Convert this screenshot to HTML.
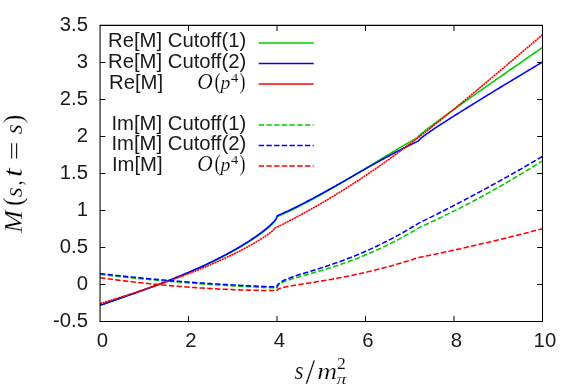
<!DOCTYPE html>
<html><head><meta charset="utf-8"><title>plot</title>
<style>html,body{margin:0;padding:0;background:#fff}svg{display:block;will-change:transform}</style></head>
<body>
<svg width="581" height="387" viewBox="0 0 581 387">
<rect width="581" height="387" fill="#fff"/>
<defs><clipPath id="c"><rect x="100.0" y="25.4" width="442.5" height="296.1"/></clipPath></defs>
<path d="M188.50,321.5 v-5.6 M188.50,25.4 v5.6 M277.00,321.5 v-5.6 M277.00,25.4 v5.6 M365.50,321.5 v-5.6 M365.50,25.4 v5.6 M454.00,321.5 v-5.6 M454.00,25.4 v5.6 M100.0,284.50 h5.3 M542.5,284.50 h-5.3 M100.0,247.50 h5.3 M542.5,247.50 h-5.3 M100.0,210.50 h5.3 M542.5,210.50 h-5.3 M100.0,173.50 h5.3 M542.5,173.50 h-5.3 M100.0,136.50 h5.3 M542.5,136.50 h-5.3 M100.0,99.50 h5.3 M542.5,99.50 h-5.3 M100.0,62.50 h5.3 M542.5,62.50 h-5.3" stroke="#000" stroke-width="1" fill="none"/>
<g clip-path="url(#c)" fill="none" stroke-linejoin="round">
<path d="M100.00,305.31 L102.01,304.61 L104.00,303.91 L105.98,303.22 L107.95,302.53 L109.91,301.84 L111.86,301.17 L113.80,300.49 L115.73,299.82 L117.64,299.15 L119.54,298.49 L121.43,297.83 L123.31,297.17 L125.18,296.52 L127.04,295.87 L128.88,295.22 L130.72,294.57 L132.54,293.93 L134.35,293.29 L136.15,292.65 L137.94,292.02 L139.72,291.38 L141.48,290.75 L143.24,290.12 L144.98,289.50 L146.71,288.87 L148.43,288.25 L150.14,287.62 L151.84,287.00 L153.52,286.38 L155.20,285.77 L156.86,285.15 L158.51,284.53 L160.15,283.92 L161.78,283.30 L163.40,282.69 L165.00,282.08 L166.60,281.47 L168.18,280.86 L169.75,280.25 L171.31,279.64 L172.86,279.03 L174.40,278.43 L175.92,277.82 L177.44,277.22 L178.94,276.61 L180.43,276.01 L181.91,275.40 L183.38,274.80 L184.84,274.20 L186.28,273.60 L187.72,272.99 L189.14,272.39 L190.55,271.79 L191.95,271.20 L193.34,270.60 L194.72,270.00 L196.08,269.40 L197.44,268.81 L198.78,268.21 L200.11,267.61 L201.43,267.02 L202.74,266.43 L204.04,265.83 L205.32,265.24 L206.60,264.65 L207.86,264.06 L209.11,263.47 L210.35,262.88 L211.58,262.30 L212.80,261.71 L214.00,261.12 L215.20,260.54 L216.38,259.96 L217.55,259.37 L218.71,258.79 L219.86,258.21 L221.00,257.64 L222.12,257.06 L223.24,256.48 L224.34,255.91 L225.43,255.34 L226.51,254.77 L227.58,254.20 L228.64,253.63 L229.68,253.07 L230.72,252.50 L231.74,251.94 L232.75,251.38 L233.75,250.82 L234.74,250.27 L235.72,249.72 L236.68,249.16 L237.64,248.61 L238.58,248.07 L239.51,247.52 L240.43,246.98 L241.34,246.44 L242.24,245.90 L243.12,245.37 L244.00,244.84 L244.86,244.31 L245.71,243.78 L246.55,243.26 L247.38,242.74 L248.20,242.22 L249.00,241.71 L249.80,241.20 L250.58,240.69 L251.35,240.19 L252.11,239.68 L252.86,239.19 L253.60,238.69 L254.32,238.20 L255.03,237.71 L255.74,237.23 L256.43,236.75 L257.11,236.27 L257.78,235.80 L258.43,235.33 L259.08,234.87 L259.71,234.41 L260.34,233.95 L260.95,233.50 L261.55,233.05 L262.14,232.61 L262.71,232.17 L263.28,231.73 L263.83,231.30 L264.38,230.88 L264.91,230.46 L265.43,230.04 L265.94,229.63 L266.43,229.22 L266.92,228.82 L267.39,228.42 L267.86,228.02 L268.31,227.64 L268.75,227.25 L269.18,226.87 L269.59,226.50 L270.00,226.13 L270.39,225.77 L270.78,225.41 L271.15,225.06 L271.51,224.71 L271.86,224.37 L272.19,224.03 L272.52,223.70 L272.83,223.37 L273.14,223.05 L273.43,222.74 L273.71,222.43 L273.98,222.12 L274.23,221.82 L274.48,221.53 L274.71,221.24 L274.94,220.96 L275.15,220.68 L275.35,220.41 L275.54,220.15 L275.71,219.89 L275.88,219.64 L276.03,219.39 L276.18,219.15 L276.31,218.91 L276.43,218.68 L276.54,218.46 L276.63,218.24 L276.72,218.02 L276.79,217.82 L276.86,217.62 L276.91,217.42 L276.95,217.23 L276.98,217.05 L276.99,216.87 L277.00,216.70 L277.00,216.70 L278.01,216.26 L279.02,215.82 L280.03,215.37 L281.05,214.92 L282.06,214.47 L283.07,214.01 L284.08,213.55 L285.09,213.09 L286.10,212.62 L287.12,212.15 L288.13,211.67 L289.14,211.19 L290.15,210.71 L291.16,210.22 L292.17,209.74 L293.18,209.24 L294.20,208.75 L295.21,208.25 L296.22,207.75 L297.23,207.25 L298.24,206.74 L299.25,206.23 L300.26,205.72 L301.28,205.20 L302.29,204.68 L303.30,204.16 L304.31,203.64 L305.32,203.11 L306.33,202.58 L307.35,202.05 L308.36,201.51 L309.37,200.98 L310.38,200.44 L311.39,199.90 L312.40,199.35 L313.41,198.80 L314.43,198.25 L315.44,197.70 L316.45,197.15 L317.46,196.59 L318.47,196.03 L319.48,195.47 L320.49,194.91 L321.51,194.35 L322.52,193.78 L323.53,193.21 L324.54,192.64 L325.55,192.07 L326.56,191.50 L327.58,190.92 L328.59,190.34 L329.60,189.76 L330.61,189.18 L331.62,188.60 L332.63,188.02 L333.64,187.43 L334.66,186.84 L335.67,186.25 L336.68,185.66 L337.69,185.07 L338.70,184.48 L339.71,183.89 L340.73,183.29 L341.74,182.70 L342.75,182.10 L343.76,181.50 L344.77,180.90 L345.78,180.30 L346.79,179.70 L347.81,179.09 L348.82,178.49 L349.83,177.89 L350.84,177.28 L351.85,176.67 L352.86,176.07 L353.87,175.46 L354.89,174.85 L355.90,174.24 L356.91,173.63 L357.92,173.02 L358.93,172.41 L359.94,171.80 L360.96,171.19 L361.97,170.58 L362.98,169.97 L363.99,169.35 L365.00,168.74 L366.01,168.13 L367.02,167.52 L368.04,166.90 L369.05,166.29 L370.06,165.68 L371.07,165.06 L372.08,164.45 L373.09,163.84 L374.11,163.23 L375.12,162.61 L376.13,162.00 L377.14,161.39 L378.15,160.78 L379.16,160.17 L380.17,159.55 L381.19,158.94 L382.20,158.33 L383.21,157.72 L384.22,157.11 L385.23,156.51 L386.24,155.90 L387.25,155.29 L388.27,154.68 L389.28,154.08 L390.29,153.47 L391.30,152.87 L392.31,152.27 L393.32,151.66 L394.34,151.06 L395.35,150.46 L396.36,149.86 L397.37,149.27 L398.38,148.67 L399.39,148.07 L400.40,147.48 L401.42,146.89 L402.43,146.29 L403.44,145.70 L404.45,145.11 L405.46,144.53 L406.47,143.94 L407.48,143.36 L408.50,142.77 L409.51,142.19 L410.52,141.61 L411.53,141.03 L412.54,140.46 L413.55,139.88 L414.57,139.31 L415.58,138.74 L416.59,138.17 L417.60,137.60 L417.60,137.60 L417.61,137.53 L417.63,137.45 L417.67,137.36 L417.73,137.25 L417.81,137.14 L417.90,137.01 L418.00,136.88 L418.13,136.73 L418.27,136.58 L418.43,136.41 L418.60,136.23 L418.79,136.04 L419.00,135.84 L419.22,135.63 L419.46,135.40 L419.71,135.17 L419.99,134.93 L420.27,134.67 L420.58,134.40 L420.90,134.13 L421.24,133.84 L421.60,133.54 L421.97,133.23 L422.36,132.91 L422.76,132.58 L423.18,132.24 L423.62,131.89 L424.07,131.52 L424.54,131.15 L425.03,130.76 L425.53,130.37 L426.05,129.96 L426.59,129.54 L427.14,129.11 L427.71,128.68 L428.30,128.22 L428.90,127.76 L429.52,127.29 L430.16,126.81 L430.81,126.31 L431.48,125.81 L432.16,125.29 L432.86,124.77 L433.58,124.23 L434.32,123.68 L435.07,123.12 L435.84,122.55 L436.62,121.97 L437.42,121.38 L438.24,120.78 L439.07,120.17 L439.92,119.54 L440.79,118.91 L441.67,118.26 L442.57,117.61 L443.49,116.94 L444.42,116.26 L445.37,115.57 L446.34,114.87 L447.32,114.16 L448.32,113.44 L449.33,112.71 L450.37,111.96 L451.42,111.21 L452.48,110.44 L453.56,109.67 L454.66,108.88 L455.77,108.08 L456.91,107.27 L458.05,106.46 L459.22,105.63 L460.40,104.78 L461.59,103.93 L462.81,103.07 L464.04,102.20 L465.28,101.31 L466.55,100.42 L467.83,99.51 L469.12,98.59 L470.44,97.67 L471.77,96.73 L473.11,95.78 L474.47,94.82 L475.85,93.85 L477.25,92.86 L478.66,91.87 L480.09,90.87 L481.53,89.85 L482.99,88.83 L484.47,87.79 L485.97,86.74 L487.48,85.68 L489.00,84.62 L490.55,83.54 L492.11,82.44 L493.68,81.34 L495.28,80.23 L496.89,79.11 L498.51,77.97 L500.16,76.83 L501.82,75.67 L503.49,74.51 L505.18,73.33 L506.89,72.14 L508.62,70.94 L510.36,69.73 L512.12,68.51 L513.89,67.28 L515.69,66.04 L517.49,64.78 L519.32,63.52 L521.16,62.24 L523.02,60.96 L524.89,59.66 L526.78,58.35 L528.69,57.03 L530.61,55.70 L532.55,54.36 L534.51,53.01 L536.48,51.65 L538.47,50.28 L540.48,48.89 L542.50,47.50" stroke="#00cc00" stroke-width="1.55"/>
<path d="M100.00,305.32 L102.01,304.62 L104.00,303.92 L105.98,303.23 L107.95,302.54 L109.91,301.85 L111.86,301.17 L113.80,300.49 L115.73,299.82 L117.64,299.15 L119.54,298.48 L121.43,297.82 L123.31,297.16 L125.18,296.50 L127.04,295.85 L128.88,295.19 L130.72,294.54 L132.54,293.90 L134.35,293.25 L136.15,292.61 L137.94,291.96 L139.72,291.33 L141.48,290.69 L143.24,290.05 L144.98,289.42 L146.71,288.78 L148.43,288.15 L150.14,287.52 L151.84,286.89 L153.52,286.27 L155.20,285.64 L156.86,285.02 L158.51,284.39 L160.15,283.77 L161.78,283.15 L163.40,282.53 L165.00,281.91 L166.60,281.29 L168.18,280.67 L169.75,280.05 L171.31,279.44 L172.86,278.82 L174.40,278.20 L175.92,277.59 L177.44,276.97 L178.94,276.36 L180.43,275.75 L181.91,275.14 L183.38,274.53 L184.84,273.91 L186.28,273.30 L187.72,272.70 L189.14,272.09 L190.55,271.48 L191.95,270.87 L193.34,270.26 L194.72,269.66 L196.08,269.05 L197.44,268.45 L198.78,267.84 L200.11,267.24 L201.43,266.64 L202.74,266.04 L204.04,265.44 L205.32,264.84 L206.60,264.24 L207.86,263.64 L209.11,263.04 L210.35,262.45 L211.58,261.85 L212.80,261.26 L214.00,260.66 L215.20,260.07 L216.38,259.48 L217.55,258.89 L218.71,258.31 L219.86,257.72 L221.00,257.14 L222.12,256.55 L223.24,255.97 L224.34,255.39 L225.43,254.81 L226.51,254.24 L227.58,253.66 L228.64,253.09 L229.68,252.52 L230.72,251.95 L231.74,251.38 L232.75,250.81 L233.75,250.25 L234.74,249.69 L235.72,249.13 L236.68,248.57 L237.64,248.02 L238.58,247.47 L239.51,246.92 L240.43,246.37 L241.34,245.83 L242.24,245.28 L243.12,244.74 L244.00,244.21 L244.86,243.67 L245.71,243.14 L246.55,242.62 L247.38,242.09 L248.20,241.57 L249.00,241.05 L249.80,240.54 L250.58,240.03 L251.35,239.52 L252.11,239.01 L252.86,238.51 L253.60,238.01 L254.32,237.52 L255.03,237.03 L255.74,236.54 L256.43,236.06 L257.11,235.58 L257.78,235.10 L258.43,234.63 L259.08,234.16 L259.71,233.70 L260.34,233.24 L260.95,232.79 L261.55,232.34 L262.14,231.89 L262.71,231.45 L263.28,231.01 L263.83,230.58 L264.38,230.15 L264.91,229.72 L265.43,229.30 L265.94,228.89 L266.43,228.48 L266.92,228.07 L267.39,227.67 L267.86,227.28 L268.31,226.89 L268.75,226.50 L269.18,226.12 L269.59,225.75 L270.00,225.38 L270.39,225.01 L270.78,224.65 L271.15,224.30 L271.51,223.95 L271.86,223.60 L272.19,223.27 L272.52,222.93 L272.83,222.60 L273.14,222.28 L273.43,221.96 L273.71,221.65 L273.98,221.35 L274.23,221.05 L274.48,220.75 L274.71,220.46 L274.94,220.18 L275.15,219.90 L275.35,219.63 L275.54,219.37 L275.71,219.10 L275.88,218.85 L276.03,218.60 L276.18,218.36 L276.31,218.12 L276.43,217.89 L276.54,217.66 L276.63,217.44 L276.72,217.23 L276.79,217.02 L276.86,216.82 L276.91,216.63 L276.95,216.44 L276.98,216.25 L276.99,216.07 L277.00,215.90 L277.00,215.90 L278.01,215.46 L279.02,215.01 L280.03,214.57 L281.05,214.11 L282.06,213.66 L283.07,213.20 L284.08,212.73 L285.09,212.27 L286.10,211.80 L287.11,211.33 L288.13,210.85 L289.14,210.37 L290.15,209.89 L291.16,209.41 L292.17,208.92 L293.18,208.43 L294.19,207.93 L295.21,207.44 L296.22,206.94 L297.23,206.44 L298.24,205.93 L299.25,205.42 L300.26,204.91 L301.27,204.40 L302.29,203.89 L303.30,203.37 L304.31,202.85 L305.32,202.33 L306.33,201.80 L307.34,201.28 L308.35,200.75 L309.37,200.22 L310.38,199.68 L311.39,199.15 L312.40,198.61 L313.41,198.07 L314.42,197.53 L315.43,196.99 L316.45,196.44 L317.46,195.90 L318.47,195.35 L319.48,194.80 L320.49,194.25 L321.50,193.69 L322.51,193.14 L323.53,192.58 L324.54,192.03 L325.55,191.47 L326.56,190.91 L327.57,190.35 L328.58,189.79 L329.59,189.22 L330.61,188.66 L331.62,188.09 L332.63,187.53 L333.64,186.96 L334.65,186.39 L335.66,185.82 L336.67,185.25 L337.69,184.68 L338.70,184.11 L339.71,183.53 L340.72,182.96 L341.73,182.39 L342.74,181.81 L343.75,181.24 L344.77,180.67 L345.78,180.09 L346.79,179.51 L347.80,178.94 L348.81,178.36 L349.82,177.79 L350.83,177.21 L351.85,176.63 L352.86,176.06 L353.87,175.48 L354.88,174.90 L355.89,174.33 L356.90,173.75 L357.91,173.18 L358.93,172.60 L359.94,172.03 L360.95,171.45 L361.96,170.88 L362.97,170.30 L363.98,169.73 L364.99,169.16 L366.01,168.58 L367.02,168.01 L368.03,167.44 L369.04,166.87 L370.05,166.30 L371.06,165.73 L372.07,165.17 L373.09,164.60 L374.10,164.03 L375.11,163.47 L376.12,162.91 L377.13,162.34 L378.14,161.78 L379.15,161.22 L380.17,160.67 L381.18,160.11 L382.19,159.55 L383.20,159.00 L384.21,158.45 L385.22,157.89 L386.23,157.34 L387.25,156.80 L388.26,156.25 L389.27,155.71 L390.28,155.16 L391.29,154.62 L392.30,154.08 L393.31,153.55 L394.33,153.01 L395.34,152.48 L396.35,151.95 L397.36,151.42 L398.37,150.89 L399.38,150.37 L400.39,149.85 L401.41,149.33 L402.42,148.81 L403.43,148.30 L404.44,147.78 L405.45,147.27 L406.46,146.77 L407.47,146.26 L408.49,145.76 L409.50,145.26 L410.51,144.76 L411.52,144.27 L412.53,143.78 L413.54,143.29 L414.55,142.81 L415.57,142.33 L416.58,141.85 L417.59,141.37 L418.60,140.90 L418.60,140.90 L418.61,140.82 L418.63,140.72 L418.67,140.62 L418.73,140.51 L418.81,140.39 L418.90,140.26 L419.01,140.12 L419.13,139.97 L419.27,139.81 L419.43,139.65 L419.61,139.47 L419.80,139.28 L420.01,139.09 L420.23,138.88 L420.47,138.67 L420.73,138.45 L421.01,138.21 L421.30,137.97 L421.61,137.72 L421.93,137.46 L422.27,137.19 L422.63,136.91 L423.00,136.62 L423.39,136.33 L423.80,136.02 L424.23,135.70 L424.67,135.38 L425.13,135.04 L425.60,134.70 L426.09,134.34 L426.60,133.98 L427.12,133.61 L427.67,133.23 L428.22,132.84 L428.80,132.44 L429.39,132.03 L430.00,131.61 L430.62,131.18 L431.26,130.74 L431.92,130.30 L432.59,129.84 L433.28,129.38 L433.99,128.90 L434.72,128.42 L435.46,127.92 L436.21,127.42 L436.99,126.91 L437.78,126.39 L438.59,125.86 L439.41,125.32 L440.25,124.77 L441.11,124.21 L441.98,123.64 L442.87,123.07 L443.78,122.48 L444.71,121.89 L445.65,121.28 L446.60,120.67 L447.58,120.04 L448.57,119.41 L449.58,118.77 L450.60,118.12 L451.64,117.46 L452.70,116.79 L453.77,116.11 L454.86,115.42 L455.97,114.72 L457.09,114.01 L458.23,113.30 L459.39,112.57 L460.56,111.84 L461.75,111.09 L462.96,110.34 L464.18,109.57 L465.42,108.80 L466.68,108.02 L467.96,107.23 L469.25,106.43 L470.55,105.62 L471.88,104.80 L473.22,103.97 L474.57,103.13 L475.95,102.29 L477.34,101.43 L478.74,100.57 L480.17,99.69 L481.61,98.81 L483.06,97.91 L484.54,97.01 L486.03,96.10 L487.53,95.18 L489.06,94.25 L490.60,93.31 L492.15,92.36 L493.73,91.40 L495.32,90.43 L496.92,89.45 L498.55,88.47 L500.19,87.47 L501.84,86.47 L503.52,85.45 L505.21,84.43 L506.91,83.40 L508.64,82.35 L510.38,81.30 L512.13,80.24 L513.91,79.17 L515.70,78.09 L517.50,77.00 L519.32,75.90 L521.16,74.80 L523.02,73.68 L524.89,72.55 L526.78,71.42 L528.69,70.27 L530.61,69.12 L532.55,67.96 L534.51,66.78 L536.48,65.60 L538.47,64.41 L540.48,63.21 L542.50,62.00" stroke="#0000ff" stroke-width="1.55"/>
<path d="M100.00,303.61 L102.01,303.00 L104.01,302.38 L105.99,301.77 L107.97,301.16 L109.93,300.56 L111.88,299.95 L113.82,299.35 L115.75,298.74 L117.66,298.14 L119.57,297.55 L121.46,296.95 L123.34,296.35 L125.21,295.76 L127.07,295.17 L128.92,294.58 L130.75,293.99 L132.57,293.40 L134.38,292.81 L136.18,292.23 L137.97,291.64 L139.75,291.06 L141.51,290.48 L143.26,289.90 L145.01,289.32 L146.74,288.74 L148.45,288.16 L150.16,287.58 L151.85,287.01 L153.54,286.43 L155.21,285.86 L156.87,285.28 L158.52,284.71 L160.15,284.14 L161.78,283.57 L163.39,283.00 L164.99,282.43 L166.58,281.87 L168.16,281.30 L169.73,280.74 L171.28,280.17 L172.83,279.61 L174.36,279.05 L175.88,278.49 L177.39,277.93 L178.88,277.37 L180.37,276.81 L181.84,276.25 L183.30,275.69 L184.75,275.14 L186.19,274.59 L187.62,274.03 L189.03,273.48 L190.44,272.93 L191.83,272.38 L193.21,271.84 L194.58,271.29 L195.94,270.74 L197.28,270.20 L198.61,269.66 L199.94,269.12 L201.25,268.58 L202.55,268.04 L203.83,267.50 L205.11,266.97 L206.37,266.43 L207.62,265.90 L208.86,265.37 L210.09,264.85 L211.31,264.32 L212.52,263.79 L213.71,263.27 L214.89,262.75 L216.06,262.23 L217.22,261.72 L218.37,261.20 L219.50,260.69 L220.63,260.18 L221.74,259.67 L222.84,259.16 L223.93,258.66 L225.01,258.16 L226.07,257.66 L227.13,257.16 L228.17,256.67 L229.20,256.18 L230.22,255.69 L231.23,255.20 L232.22,254.72 L233.21,254.24 L234.18,253.76 L235.14,253.28 L236.09,252.81 L237.03,252.34 L237.95,251.87 L238.87,251.41 L239.77,250.95 L240.66,250.49 L241.54,250.04 L242.41,249.59 L243.27,249.14 L244.11,248.69 L244.94,248.25 L245.76,247.82 L246.57,247.38 L247.37,246.95 L248.16,246.52 L248.93,246.10 L249.69,245.68 L250.45,245.26 L251.19,244.85 L251.91,244.44 L252.63,244.04 L253.33,243.64 L254.03,243.24 L254.71,242.85 L255.38,242.46 L256.04,242.08 L256.68,241.70 L257.32,241.32 L257.94,240.95 L258.55,240.58 L259.15,240.22 L259.74,239.86 L260.32,239.50 L260.88,239.15 L261.44,238.81 L261.98,238.47 L262.51,238.13 L263.03,237.80 L263.53,237.47 L264.03,237.15 L264.51,236.83 L264.98,236.52 L265.44,236.21 L265.89,235.91 L266.33,235.61 L266.75,235.31 L267.17,235.02 L267.57,234.74 L267.96,234.46 L268.34,234.19 L268.70,233.92 L269.06,233.65 L269.40,233.40 L269.73,233.14 L270.05,232.89 L270.36,232.65 L270.66,232.41 L270.95,232.18 L271.22,231.95 L271.48,231.73 L271.73,231.51 L271.97,231.30 L272.20,231.09 L272.41,230.89 L272.62,230.70 L272.81,230.51 L272.99,230.32 L273.16,230.14 L273.32,229.97 L273.46,229.80 L273.60,229.64 L273.72,229.48 L273.83,229.32 L273.93,229.18 L274.01,229.04 L274.09,228.90 L274.15,228.77 L274.21,228.64 L274.25,228.53 L274.28,228.41 L274.29,228.30 L274.30,228.20 L274.30,228.20 L277.00,227.10 L277.00,227.10 L278.51,226.35 L280.02,225.60 L281.53,224.85 L283.03,224.09 L284.54,223.33 L286.05,222.56 L287.56,221.78 L289.07,221.01 L290.58,220.22 L292.09,219.44 L293.59,218.65 L295.10,217.85 L296.61,217.05 L298.12,216.24 L299.63,215.43 L301.14,214.62 L302.64,213.80 L304.15,212.98 L305.66,212.15 L307.17,211.32 L308.68,210.48 L310.19,209.64 L311.70,208.79 L313.20,207.94 L314.71,207.08 L316.22,206.22 L317.73,205.36 L319.24,204.49 L320.75,203.61 L322.26,202.74 L323.76,201.85 L325.27,200.96 L326.78,200.07 L328.29,199.18 L329.80,198.27 L331.31,197.37 L332.82,196.46 L334.32,195.54 L335.83,194.62 L337.34,193.70 L338.85,192.77 L340.36,191.84 L341.87,190.90 L343.38,189.96 L344.88,189.01 L346.39,188.06 L347.90,187.10 L349.41,186.14 L350.92,185.18 L352.43,184.21 L353.93,183.23 L355.44,182.25 L356.95,181.27 L358.46,180.28 L359.97,179.29 L361.48,178.29 L362.99,177.29 L364.49,176.29 L366.00,175.28 L367.51,174.26 L369.02,173.24 L370.53,172.22 L372.04,171.19 L373.55,170.15 L375.05,169.12 L376.56,168.07 L378.07,167.03 L379.58,165.97 L381.09,164.92 L382.60,163.86 L384.11,162.79 L385.61,161.72 L387.12,160.65 L388.63,159.57 L390.14,158.49 L391.65,157.40 L393.16,156.31 L394.66,155.21 L396.17,154.11 L397.68,153.00 L399.19,151.89 L400.70,150.78 L402.21,149.66 L403.72,148.54 L405.22,147.41 L406.73,146.28 L408.24,145.15 L409.75,144.01 L411.26,142.87 L412.77,141.73 L414.28,140.58 L415.78,139.42 L417.29,138.27 L418.80,137.11 L420.31,135.94 L421.82,134.78 L423.33,133.60 L424.84,132.43 L426.34,131.25 L427.85,130.07 L429.36,128.89 L430.87,127.70 L432.38,126.51 L433.89,125.32 L435.39,124.12 L436.90,122.92 L438.41,121.72 L439.92,120.52 L441.43,119.31 L442.94,118.10 L444.45,116.89 L445.95,115.67 L447.46,114.45 L448.97,113.23 L450.48,112.01 L451.99,110.78 L453.50,109.55 L455.01,108.32 L456.51,107.09 L458.02,105.86 L459.53,104.62 L461.04,103.38 L462.55,102.14 L464.06,100.90 L465.57,99.65 L467.07,98.40 L468.58,97.16 L470.09,95.91 L471.60,94.65 L473.11,93.40 L474.62,92.14 L476.12,90.89 L477.63,89.63 L479.14,88.37 L480.65,87.11 L482.16,85.84 L483.67,84.58 L485.18,83.31 L486.68,82.05 L488.19,80.78 L489.70,79.51 L491.21,78.24 L492.72,76.97 L494.23,75.69 L495.74,74.42 L497.24,73.15 L498.75,71.87 L500.26,70.60 L501.77,69.32 L503.28,68.04 L504.79,66.77 L506.30,65.49 L507.80,64.21 L509.31,62.93 L510.82,61.65 L512.33,60.37 L513.84,59.09 L515.35,57.81 L516.86,56.53 L518.36,55.25 L519.87,53.97 L521.38,52.69 L522.89,51.41 L524.40,50.13 L525.91,48.85 L527.41,47.57 L528.92,46.29 L530.43,45.02 L531.94,43.74 L533.45,42.46 L534.96,41.18 L536.47,39.90 L537.97,38.63 L539.48,37.35 L540.99,36.07 L542.50,34.80" stroke="#ff0000" stroke-width="1.55" stroke-dasharray="2.2 0.5"/>
<path d="M100.00,274.39 L101.01,274.51 L102.01,274.62 L103.02,274.74 L104.02,274.85 L105.03,274.97 L106.03,275.08 L107.04,275.19 L108.05,275.31 L109.05,275.42 L110.06,275.53 L111.06,275.64 L112.07,275.75 L113.07,275.86 L114.08,275.97 L115.09,276.08 L116.09,276.19 L117.10,276.30 L118.10,276.41 L119.11,276.51 L120.11,276.62 L121.12,276.73 L122.12,276.83 L123.13,276.94 L124.14,277.05 L125.14,277.15 L126.15,277.26 L127.15,277.36 L128.16,277.46 L129.16,277.57 L130.17,277.67 L131.18,277.77 L132.18,277.87 L133.19,277.98 L134.19,278.08 L135.20,278.18 L136.20,278.28 L137.21,278.38 L138.22,278.48 L139.22,278.58 L140.23,278.67 L141.23,278.77 L142.24,278.87 L143.24,278.97 L144.25,279.06 L145.26,279.16 L146.26,279.26 L147.27,279.35 L148.27,279.45 L149.28,279.54 L150.28,279.64 L151.29,279.73 L152.30,279.82 L153.30,279.92 L154.31,280.01 L155.31,280.10 L156.32,280.19 L157.32,280.28 L158.33,280.37 L159.34,280.46 L160.34,280.55 L161.35,280.64 L162.35,280.73 L163.36,280.82 L164.36,280.91 L165.37,281.00 L166.38,281.08 L167.38,281.17 L168.39,281.26 L169.39,281.34 L170.40,281.43 L171.40,281.51 L172.41,281.60 L173.41,281.68 L174.42,281.76 L175.43,281.85 L176.43,281.93 L177.44,282.01 L178.44,282.09 L179.45,282.18 L180.45,282.26 L181.46,282.34 L182.47,282.42 L183.47,282.50 L184.48,282.58 L185.48,282.66 L186.49,282.73 L187.49,282.81 L188.50,282.89 L189.51,282.97 L190.51,283.04 L191.52,283.12 L192.52,283.19 L193.53,283.27 L194.53,283.35 L195.54,283.42 L196.55,283.49 L197.55,283.57 L198.56,283.64 L199.56,283.71 L200.57,283.79 L201.57,283.86 L202.58,283.93 L203.59,284.00 L204.59,284.07 L205.60,284.14 L206.60,284.21 L207.61,284.28 L208.61,284.35 L209.62,284.42 L210.62,284.48 L211.63,284.55 L212.64,284.62 L213.64,284.69 L214.65,284.75 L215.65,284.82 L216.66,284.88 L217.66,284.95 L218.67,285.01 L219.68,285.08 L220.68,285.14 L221.69,285.20 L222.69,285.26 L223.70,285.33 L224.70,285.39 L225.71,285.45 L226.72,285.51 L227.72,285.57 L228.73,285.63 L229.73,285.69 L230.74,285.75 L231.74,285.81 L232.75,285.87 L233.76,285.93 L234.76,285.98 L235.77,286.04 L236.77,286.10 L237.78,286.15 L238.78,286.21 L239.79,286.26 L240.80,286.32 L241.80,286.37 L242.81,286.43 L243.81,286.48 L244.82,286.53 L245.82,286.59 L246.83,286.64 L247.84,286.69 L248.84,286.74 L249.85,286.79 L250.85,286.84 L251.86,286.89 L252.86,286.94 L253.87,286.99 L254.88,287.04 L255.88,287.09 L256.89,287.14 L257.89,287.18 L258.90,287.23 L259.90,287.28 L260.91,287.32 L261.91,287.37 L262.92,287.41 L263.93,287.46 L264.93,287.50 L265.94,287.55 L266.94,287.59 L267.95,287.63 L268.95,287.68 L269.96,287.72 L270.97,287.76 L271.97,287.80 L272.98,287.84 L273.98,287.88 L274.99,287.92 L275.99,287.96 L277.00,288.00 L277.00,288.00 L277.01,287.79 L277.03,287.58 L277.06,287.37 L277.11,287.16 L277.18,286.95 L277.26,286.74 L277.35,286.53 L277.46,286.33 L277.58,286.12 L277.72,285.92 L277.87,285.72 L278.03,285.52 L278.21,285.31 L278.40,285.11 L278.61,284.92 L278.83,284.72 L279.07,284.52 L279.32,284.32 L279.59,284.13 L279.87,283.93 L280.16,283.74 L280.47,283.54 L280.79,283.35 L281.13,283.15 L281.48,282.96 L281.85,282.77 L282.23,282.57 L282.62,282.38 L283.03,282.19 L283.45,282.00 L283.89,281.80 L284.34,281.61 L284.81,281.42 L285.29,281.22 L285.78,281.03 L286.29,280.84 L286.81,280.64 L287.35,280.45 L287.90,280.25 L288.47,280.05 L289.05,279.85 L289.64,279.66 L290.25,279.46 L290.88,279.25 L291.51,279.05 L292.17,278.85 L292.83,278.64 L293.51,278.43 L294.21,278.23 L294.92,278.01 L295.64,277.80 L296.38,277.59 L297.13,277.37 L297.90,277.15 L298.68,276.92 L299.48,276.70 L300.29,276.47 L301.11,276.24 L301.95,276.01 L302.80,275.77 L303.67,275.53 L304.55,275.28 L305.45,275.03 L306.36,274.78 L307.28,274.52 L308.22,274.26 L309.18,274.00 L310.14,273.73 L311.13,273.46 L312.12,273.18 L313.13,272.89 L314.16,272.60 L315.20,272.31 L316.25,272.01 L317.32,271.70 L318.40,271.39 L319.50,271.07 L320.61,270.75 L321.73,270.42 L322.87,270.08 L324.03,269.73 L325.20,269.38 L326.38,269.02 L327.57,268.66 L328.79,268.28 L330.01,267.90 L331.25,267.51 L332.51,267.11 L333.77,266.70 L335.06,266.29 L336.36,265.86 L337.67,265.43 L338.99,264.98 L340.33,264.53 L341.69,264.06 L343.06,263.59 L344.44,263.11 L345.84,262.61 L347.25,262.10 L348.68,261.59 L350.12,261.06 L351.57,260.52 L353.04,259.97 L354.53,259.40 L356.02,258.82 L357.54,258.24 L359.06,257.63 L360.60,257.02 L362.16,256.39 L363.73,255.74 L365.31,255.09 L366.91,254.42 L368.52,253.73 L370.15,253.03 L371.79,252.31 L373.45,251.58 L375.12,250.84 L376.80,250.07 L378.50,249.29 L380.21,248.50 L381.94,247.69 L383.68,246.86 L385.44,246.01 L387.21,245.14 L388.99,244.26 L390.79,243.36 L392.61,242.44 L394.43,241.50 L396.28,240.54 L398.13,239.56 L400.00,238.56 L401.89,237.54 L403.79,236.50 L405.70,235.44 L407.63,234.36 L409.57,233.26 L411.53,232.13 L413.50,230.98 L415.49,229.81 L417.49,228.62 L419.50,227.40 L419.50,227.40 L420.51,226.95 L421.52,226.50 L422.52,226.04 L423.53,225.58 L424.54,225.13 L425.55,224.67 L426.56,224.21 L427.57,223.74 L428.57,223.28 L429.58,222.81 L430.59,222.35 L431.60,221.88 L432.61,221.41 L433.61,220.93 L434.62,220.46 L435.63,219.99 L436.64,219.51 L437.65,219.03 L438.66,218.55 L439.66,218.07 L440.67,217.59 L441.68,217.10 L442.69,216.62 L443.70,216.13 L444.70,215.64 L445.71,215.15 L446.72,214.66 L447.73,214.16 L448.74,213.67 L449.75,213.17 L450.75,212.67 L451.76,212.17 L452.77,211.67 L453.78,211.17 L454.79,210.66 L455.80,210.16 L456.80,209.65 L457.81,209.14 L458.82,208.63 L459.83,208.12 L460.84,207.60 L461.84,207.09 L462.85,206.57 L463.86,206.05 L464.87,205.53 L465.88,205.01 L466.89,204.49 L467.89,203.96 L468.90,203.43 L469.91,202.91 L470.92,202.38 L471.93,201.85 L472.93,201.31 L473.94,200.78 L474.95,200.24 L475.96,199.71 L476.97,199.17 L477.98,198.63 L478.98,198.08 L479.99,197.54 L481.00,197.00 L482.01,196.45 L483.02,195.90 L484.02,195.35 L485.03,194.80 L486.04,194.25 L487.05,193.69 L488.06,193.14 L489.07,192.58 L490.07,192.02 L491.08,191.46 L492.09,190.90 L493.10,190.33 L494.11,189.77 L495.11,189.20 L496.12,188.63 L497.13,188.06 L498.14,187.49 L499.15,186.92 L500.16,186.34 L501.16,185.77 L502.17,185.19 L503.18,184.61 L504.19,184.03 L505.20,183.45 L506.20,182.86 L507.21,182.28 L508.22,181.69 L509.23,181.10 L510.24,180.51 L511.25,179.92 L512.25,179.33 L513.26,178.73 L514.27,178.13 L515.28,177.54 L516.29,176.94 L517.30,176.33 L518.30,175.73 L519.31,175.13 L520.32,174.52 L521.33,173.91 L522.34,173.31 L523.34,172.70 L524.35,172.08 L525.36,171.47 L526.37,170.85 L527.38,170.24 L528.39,169.62 L529.39,169.00 L530.40,168.38 L531.41,167.76 L532.42,167.13 L533.43,166.50 L534.43,165.88 L535.44,165.25 L536.45,164.62 L537.46,163.98 L538.47,163.35 L539.48,162.72 L540.48,162.08 L541.49,161.44 L542.50,160.80" stroke="#00cc00" stroke-width="1.55" stroke-dasharray="5.4 2.3"/>
<path d="M100.00,273.60 L101.01,273.72 L102.01,273.83 L103.02,273.95 L104.02,274.06 L105.03,274.17 L106.03,274.29 L107.04,274.40 L108.05,274.51 L109.05,274.63 L110.06,274.74 L111.06,274.85 L112.07,274.96 L113.07,275.07 L114.08,275.18 L115.09,275.29 L116.09,275.40 L117.10,275.51 L118.10,275.61 L119.11,275.72 L120.11,275.83 L121.12,275.94 L122.12,276.04 L123.13,276.15 L124.14,276.25 L125.14,276.36 L126.15,276.46 L127.15,276.57 L128.16,276.67 L129.16,276.77 L130.17,276.88 L131.18,276.98 L132.18,277.08 L133.19,277.18 L134.19,277.28 L135.20,277.38 L136.20,277.48 L137.21,277.58 L138.22,277.68 L139.22,277.78 L140.23,277.88 L141.23,277.97 L142.24,278.07 L143.24,278.17 L144.25,278.26 L145.26,278.36 L146.26,278.46 L147.27,278.55 L148.27,278.65 L149.28,278.74 L150.28,278.83 L151.29,278.93 L152.30,279.02 L153.30,279.11 L154.31,279.20 L155.31,279.29 L156.32,279.39 L157.32,279.48 L158.33,279.57 L159.34,279.65 L160.34,279.74 L161.35,279.83 L162.35,279.92 L163.36,280.01 L164.36,280.10 L165.37,280.18 L166.38,280.27 L167.38,280.35 L168.39,280.44 L169.39,280.52 L170.40,280.61 L171.40,280.69 L172.41,280.78 L173.41,280.86 L174.42,280.94 L175.43,281.03 L176.43,281.11 L177.44,281.19 L178.44,281.27 L179.45,281.35 L180.45,281.43 L181.46,281.51 L182.47,281.59 L183.47,281.67 L184.48,281.75 L185.48,281.82 L186.49,281.90 L187.49,281.98 L188.50,282.05 L189.51,282.13 L190.51,282.20 L191.52,282.28 L192.52,282.35 L193.53,282.43 L194.53,282.50 L195.54,282.58 L196.55,282.65 L197.55,282.72 L198.56,282.79 L199.56,282.86 L200.57,282.93 L201.57,283.00 L202.58,283.07 L203.59,283.14 L204.59,283.21 L205.60,283.28 L206.60,283.35 L207.61,283.42 L208.61,283.49 L209.62,283.55 L210.62,283.62 L211.63,283.68 L212.64,283.75 L213.64,283.82 L214.65,283.88 L215.65,283.94 L216.66,284.01 L217.66,284.07 L218.67,284.13 L219.68,284.20 L220.68,284.26 L221.69,284.32 L222.69,284.38 L223.70,284.44 L224.70,284.50 L225.71,284.56 L226.72,284.62 L227.72,284.68 L228.73,284.74 L229.73,284.79 L230.74,284.85 L231.74,284.91 L232.75,284.96 L233.76,285.02 L234.76,285.08 L235.77,285.13 L236.77,285.19 L237.78,285.24 L238.78,285.29 L239.79,285.35 L240.80,285.40 L241.80,285.45 L242.81,285.50 L243.81,285.56 L244.82,285.61 L245.82,285.66 L246.83,285.71 L247.84,285.76 L248.84,285.81 L249.85,285.86 L250.85,285.90 L251.86,285.95 L252.86,286.00 L253.87,286.05 L254.88,286.09 L255.88,286.14 L256.89,286.18 L257.89,286.23 L258.90,286.27 L259.90,286.32 L260.91,286.36 L261.91,286.40 L262.92,286.45 L263.93,286.49 L264.93,286.53 L265.94,286.57 L266.94,286.61 L267.95,286.66 L268.95,286.70 L269.96,286.73 L270.97,286.77 L271.97,286.81 L272.98,286.85 L273.98,286.89 L274.99,286.93 L275.99,286.96 L277.00,287.00 L277.00,287.00 L277.01,286.77 L277.03,286.55 L277.07,286.32 L277.12,286.10 L277.18,285.88 L277.26,285.66 L277.35,285.44 L277.46,285.22 L277.59,285.00 L277.72,284.78 L277.88,284.56 L278.04,284.34 L278.22,284.12 L278.42,283.91 L278.63,283.69 L278.85,283.48 L279.09,283.26 L279.34,283.05 L279.61,282.84 L279.89,282.62 L280.19,282.41 L280.50,282.20 L280.83,281.98 L281.17,281.77 L281.52,281.56 L281.89,281.35 L282.27,281.13 L282.67,280.92 L283.08,280.71 L283.51,280.50 L283.95,280.28 L284.41,280.07 L284.88,279.86 L285.36,279.64 L285.86,279.43 L286.38,279.21 L286.90,279.00 L287.45,278.78 L288.00,278.56 L288.58,278.34 L289.16,278.12 L289.76,277.90 L290.38,277.67 L291.01,277.45 L291.65,277.22 L292.31,276.99 L292.98,276.76 L293.67,276.53 L294.37,276.30 L295.09,276.06 L295.82,275.82 L296.56,275.58 L297.32,275.34 L298.10,275.09 L298.88,274.84 L299.69,274.59 L300.51,274.34 L301.34,274.08 L302.18,273.81 L303.04,273.55 L303.92,273.28 L304.81,273.01 L305.71,272.73 L306.63,272.45 L307.57,272.16 L308.51,271.87 L309.48,271.58 L310.45,271.28 L311.44,270.97 L312.45,270.66 L313.47,270.35 L314.50,270.03 L315.55,269.70 L316.62,269.37 L317.70,269.03 L318.79,268.69 L319.89,268.34 L321.02,267.98 L322.15,267.61 L323.30,267.24 L324.47,266.86 L325.65,266.48 L326.84,266.08 L328.05,265.68 L329.27,265.27 L330.51,264.85 L331.76,264.43 L333.03,263.99 L334.31,263.55 L335.60,263.09 L336.91,262.63 L338.23,262.16 L339.57,261.68 L340.93,261.19 L342.29,260.68 L343.67,260.17 L345.07,259.65 L346.48,259.11 L347.91,258.57 L349.35,258.01 L350.80,257.44 L352.27,256.86 L353.75,256.26 L355.25,255.66 L356.76,255.04 L358.29,254.41 L359.83,253.76 L361.39,253.10 L362.96,252.43 L364.54,251.74 L366.14,251.04 L367.75,250.32 L369.38,249.59 L371.02,248.85 L372.68,248.09 L374.35,247.31 L376.04,246.51 L377.74,245.70 L379.45,244.88 L381.18,244.03 L382.92,243.17 L384.68,242.29 L386.45,241.40 L388.24,240.48 L390.04,239.55 L391.86,238.60 L393.69,237.62 L395.53,236.63 L397.39,235.62 L399.27,234.59 L401.15,233.54 L403.06,232.47 L404.97,231.37 L406.91,230.26 L408.85,229.12 L410.81,227.96 L412.79,226.78 L414.78,225.58 L416.78,224.35 L418.80,223.10 L418.80,223.10 L419.81,222.61 L420.83,222.11 L421.84,221.61 L422.86,221.12 L423.87,220.62 L424.88,220.12 L425.90,219.62 L426.91,219.12 L427.93,218.62 L428.94,218.12 L429.95,217.61 L430.97,217.11 L431.98,216.60 L433.00,216.10 L434.01,215.59 L435.02,215.08 L436.04,214.58 L437.05,214.07 L438.06,213.56 L439.08,213.05 L440.09,212.53 L441.11,212.02 L442.12,211.51 L443.13,210.99 L444.15,210.48 L445.16,209.96 L446.18,209.45 L447.19,208.93 L448.20,208.41 L449.22,207.89 L450.23,207.37 L451.25,206.85 L452.26,206.33 L453.27,205.80 L454.29,205.28 L455.30,204.75 L456.32,204.23 L457.33,203.70 L458.34,203.18 L459.36,202.65 L460.37,202.12 L461.39,201.59 L462.40,201.06 L463.41,200.53 L464.43,199.99 L465.44,199.46 L466.45,198.93 L467.47,198.39 L468.48,197.85 L469.50,197.32 L470.51,196.78 L471.52,196.24 L472.54,195.70 L473.55,195.16 L474.57,194.62 L475.58,194.08 L476.59,193.54 L477.61,192.99 L478.62,192.45 L479.64,191.90 L480.65,191.36 L481.66,190.81 L482.68,190.26 L483.69,189.71 L484.71,189.16 L485.72,188.61 L486.73,188.06 L487.75,187.51 L488.76,186.96 L489.78,186.40 L490.79,185.85 L491.80,185.29 L492.82,184.73 L493.83,184.18 L494.85,183.62 L495.86,183.06 L496.87,182.50 L497.89,181.94 L498.90,181.38 L499.91,180.81 L500.93,180.25 L501.94,179.68 L502.96,179.12 L503.97,178.55 L504.98,177.99 L506.00,177.42 L507.01,176.85 L508.03,176.28 L509.04,175.71 L510.05,175.14 L511.07,174.57 L512.08,173.99 L513.10,173.42 L514.11,172.84 L515.12,172.27 L516.14,171.69 L517.15,171.11 L518.17,170.54 L519.18,169.96 L520.19,169.38 L521.21,168.80 L522.22,168.22 L523.24,167.63 L524.25,167.05 L525.26,166.46 L526.28,165.88 L527.29,165.29 L528.30,164.71 L529.32,164.12 L530.33,163.53 L531.35,162.94 L532.36,162.35 L533.37,161.76 L534.39,161.17 L535.40,160.57 L536.42,159.98 L537.43,159.39 L538.44,158.79 L539.46,158.19 L540.47,157.60 L541.49,157.00 L542.50,156.40" stroke="#0000ff" stroke-width="1.55" stroke-dasharray="5.4 2.3"/>
<path d="M100.00,277.71 L101.01,277.85 L102.01,277.99 L103.02,278.13 L104.02,278.26 L105.03,278.40 L106.03,278.54 L107.04,278.67 L108.05,278.81 L109.05,278.94 L110.06,279.08 L111.06,279.21 L112.07,279.34 L113.07,279.47 L114.08,279.60 L115.09,279.73 L116.09,279.86 L117.10,279.99 L118.10,280.12 L119.11,280.24 L120.11,280.37 L121.12,280.49 L122.12,280.62 L123.13,280.74 L124.14,280.86 L125.14,280.99 L126.15,281.11 L127.15,281.23 L128.16,281.35 L129.16,281.47 L130.17,281.59 L131.18,281.70 L132.18,281.82 L133.19,281.94 L134.19,282.05 L135.20,282.16 L136.20,282.28 L137.21,282.39 L138.22,282.50 L139.22,282.61 L140.23,282.72 L141.23,282.83 L142.24,282.94 L143.24,283.05 L144.25,283.16 L145.26,283.27 L146.26,283.37 L147.27,283.48 L148.27,283.58 L149.28,283.68 L150.28,283.79 L151.29,283.89 L152.30,283.99 L153.30,284.09 L154.31,284.19 L155.31,284.29 L156.32,284.39 L157.32,284.49 L158.33,284.58 L159.34,284.68 L160.34,284.77 L161.35,284.87 L162.35,284.96 L163.36,285.05 L164.36,285.15 L165.37,285.24 L166.38,285.33 L167.38,285.42 L168.39,285.51 L169.39,285.60 L170.40,285.68 L171.40,285.77 L172.41,285.86 L173.41,285.94 L174.42,286.03 L175.43,286.11 L176.43,286.19 L177.44,286.27 L178.44,286.35 L179.45,286.44 L180.45,286.52 L181.46,286.59 L182.47,286.67 L183.47,286.75 L184.48,286.83 L185.48,286.90 L186.49,286.98 L187.49,287.05 L188.50,287.13 L189.51,287.20 L190.51,287.27 L191.52,287.34 L192.52,287.41 L193.53,287.48 L194.53,287.55 L195.54,287.62 L196.55,287.69 L197.55,287.75 L198.56,287.82 L199.56,287.89 L200.57,287.95 L201.57,288.01 L202.58,288.08 L203.59,288.14 L204.59,288.20 L205.60,288.26 L206.60,288.32 L207.61,288.38 L208.61,288.44 L209.62,288.50 L210.62,288.55 L211.63,288.61 L212.64,288.66 L213.64,288.72 L214.65,288.77 L215.65,288.82 L216.66,288.88 L217.66,288.93 L218.67,288.98 L219.68,289.03 L220.68,289.08 L221.69,289.13 L222.69,289.17 L223.70,289.22 L224.70,289.27 L225.71,289.31 L226.72,289.36 L227.72,289.40 L228.73,289.44 L229.73,289.48 L230.74,289.53 L231.74,289.57 L232.75,289.61 L233.76,289.65 L234.76,289.68 L235.77,289.72 L236.77,289.76 L237.78,289.79 L238.78,289.83 L239.79,289.86 L240.80,289.90 L241.80,289.93 L242.81,289.96 L243.81,289.99 L244.82,290.03 L245.82,290.06 L246.83,290.08 L247.84,290.11 L248.84,290.14 L249.85,290.17 L250.85,290.19 L251.86,290.22 L252.86,290.24 L253.87,290.27 L254.88,290.29 L255.88,290.31 L256.89,290.33 L257.89,290.35 L258.90,290.37 L259.90,290.39 L260.91,290.41 L261.91,290.43 L262.92,290.45 L263.93,290.46 L264.93,290.48 L265.94,290.49 L266.94,290.51 L267.95,290.52 L268.95,290.53 L269.96,290.54 L270.97,290.55 L271.97,290.56 L272.98,290.57 L273.98,290.58 L274.99,290.59 L275.99,290.59 L277.00,290.60 L277.00,290.60 L277.01,290.49 L277.03,290.38 L277.07,290.27 L277.12,290.17 L277.18,290.06 L277.26,289.95 L277.35,289.84 L277.46,289.74 L277.59,289.63 L277.72,289.52 L277.88,289.42 L278.04,289.31 L278.22,289.20 L278.42,289.10 L278.63,288.99 L278.85,288.89 L279.09,288.78 L279.34,288.68 L279.61,288.58 L279.89,288.47 L280.19,288.37 L280.50,288.26 L280.83,288.16 L281.17,288.05 L281.52,287.95 L281.89,287.84 L282.27,287.74 L282.67,287.64 L283.08,287.53 L283.51,287.43 L283.95,287.32 L284.41,287.22 L284.88,287.11 L285.36,287.00 L285.86,286.90 L286.38,286.79 L286.90,286.68 L287.45,286.57 L288.00,286.46 L288.58,286.36 L289.16,286.25 L289.76,286.13 L290.38,286.02 L291.01,285.91 L291.65,285.80 L292.31,285.68 L292.98,285.57 L293.67,285.45 L294.37,285.33 L295.09,285.21 L295.82,285.09 L296.56,284.97 L297.32,284.85 L298.10,284.72 L298.88,284.60 L299.69,284.47 L300.51,284.34 L301.34,284.21 L302.18,284.07 L303.04,283.94 L303.92,283.80 L304.81,283.66 L305.71,283.52 L306.63,283.37 L307.57,283.23 L308.51,283.08 L309.48,282.93 L310.45,282.77 L311.44,282.62 L312.45,282.46 L313.47,282.30 L314.50,282.13 L315.55,281.96 L316.62,281.79 L317.70,281.61 L318.79,281.44 L319.89,281.25 L321.02,281.07 L322.15,280.88 L323.30,280.69 L324.47,280.49 L325.65,280.29 L326.84,280.09 L328.05,279.88 L329.27,279.66 L330.51,279.45 L331.76,279.22 L333.03,279.00 L334.31,278.76 L335.60,278.53 L336.91,278.29 L338.23,278.04 L339.57,277.79 L340.93,277.53 L342.29,277.27 L343.67,277.00 L345.07,276.73 L346.48,276.45 L347.91,276.16 L349.35,275.87 L350.80,275.57 L352.27,275.26 L353.75,274.95 L355.25,274.63 L356.76,274.31 L358.29,273.98 L359.83,273.64 L361.39,273.29 L362.96,272.94 L364.54,272.58 L366.14,272.21 L367.75,271.83 L369.38,271.45 L371.02,271.06 L372.68,270.66 L374.35,270.25 L376.04,269.83 L377.74,269.40 L379.45,268.97 L381.18,268.53 L382.92,268.07 L384.68,267.61 L386.45,267.14 L388.24,266.66 L390.04,266.16 L391.86,265.66 L393.69,265.15 L395.53,264.63 L397.39,264.10 L399.27,263.55 L401.15,263.00 L403.06,262.44 L404.97,261.86 L406.91,261.27 L408.85,260.67 L410.81,260.06 L412.79,259.44 L414.78,258.81 L416.78,258.16 L418.80,257.50 L418.80,257.50 L419.81,257.30 L420.83,257.09 L421.84,256.89 L422.86,256.68 L423.87,256.47 L424.88,256.27 L425.90,256.06 L426.91,255.85 L427.93,255.64 L428.94,255.43 L429.95,255.22 L430.97,255.01 L431.98,254.80 L433.00,254.59 L434.01,254.38 L435.02,254.17 L436.04,253.95 L437.05,253.74 L438.06,253.53 L439.08,253.31 L440.09,253.10 L441.11,252.88 L442.12,252.67 L443.13,252.45 L444.15,252.23 L445.16,252.02 L446.18,251.80 L447.19,251.58 L448.20,251.36 L449.22,251.14 L450.23,250.92 L451.25,250.70 L452.26,250.48 L453.27,250.26 L454.29,250.04 L455.30,249.81 L456.32,249.59 L457.33,249.37 L458.34,249.14 L459.36,248.92 L460.37,248.69 L461.39,248.47 L462.40,248.24 L463.41,248.01 L464.43,247.78 L465.44,247.56 L466.45,247.33 L467.47,247.10 L468.48,246.87 L469.50,246.64 L470.51,246.41 L471.52,246.18 L472.54,245.95 L473.55,245.71 L474.57,245.48 L475.58,245.25 L476.59,245.01 L477.61,244.78 L478.62,244.55 L479.64,244.31 L480.65,244.07 L481.66,243.84 L482.68,243.60 L483.69,243.36 L484.71,243.13 L485.72,242.89 L486.73,242.65 L487.75,242.41 L488.76,242.17 L489.78,241.93 L490.79,241.69 L491.80,241.45 L492.82,241.20 L493.83,240.96 L494.85,240.72 L495.86,240.47 L496.87,240.23 L497.89,239.99 L498.90,239.74 L499.91,239.49 L500.93,239.25 L501.94,239.00 L502.96,238.75 L503.97,238.51 L504.98,238.26 L506.00,238.01 L507.01,237.76 L508.03,237.51 L509.04,237.26 L510.05,237.01 L511.07,236.76 L512.08,236.50 L513.10,236.25 L514.11,236.00 L515.12,235.75 L516.14,235.49 L517.15,235.24 L518.17,234.98 L519.18,234.73 L520.19,234.47 L521.21,234.21 L522.22,233.96 L523.24,233.70 L524.25,233.44 L525.26,233.18 L526.28,232.92 L527.29,232.66 L528.30,232.40 L529.32,232.14 L530.33,231.88 L531.35,231.62 L532.36,231.35 L533.37,231.09 L534.39,230.83 L535.40,230.56 L536.42,230.30 L537.43,230.03 L538.44,229.77 L539.46,229.50 L540.47,229.23 L541.49,228.97 L542.50,228.70" stroke="#ff0000" stroke-width="1.55" stroke-dasharray="5.4 2.3"/>
</g>
<path d="M258.7,43.0 H313.7" stroke="#00cc00" stroke-width="1.7" fill="none"/>
<path d="M258.7,63.5 H313.7" stroke="#0000ff" stroke-width="1.7" fill="none"/>
<path d="M258.7,84.0 H313.7" stroke="#ff0000" stroke-width="1.7" fill="none"/>
<path d="M258.7,125.0 H313.7" stroke="#00cc00" stroke-width="1.7" stroke-dasharray="5.4 2.3" fill="none"/>
<path d="M258.7,145.5 H313.7" stroke="#0000ff" stroke-width="1.7" stroke-dasharray="5.4 2.3" fill="none"/>
<path d="M258.7,166.0 H313.7" stroke="#ff0000" stroke-width="1.7" stroke-dasharray="5.4 2.3" fill="none"/>
<path d="M99.5,25.4 H543.0 M99.5,321.5 H543.0" fill="none" stroke="#000" stroke-width="1.15"/>
<path d="M100.05,25.4 V321.5 M542.5,25.4 V321.5" fill="none" stroke="#000" stroke-width="1.05"/>
<g font-family="Liberation Sans, sans-serif" font-size="20.3" fill="#1a1a1a">
<text x="88" y="326.60" text-anchor="end">-0.5</text>
<text x="88" y="289.60" text-anchor="end">0</text>
<text x="88" y="252.60" text-anchor="end">0.5</text>
<text x="88" y="215.60" text-anchor="end">1</text>
<text x="88" y="178.60" text-anchor="end">1.5</text>
<text x="88" y="141.60" text-anchor="end">2</text>
<text x="88" y="104.60" text-anchor="end">2.5</text>
<text x="88" y="67.60" text-anchor="end">3</text>
<text x="88" y="30.60" text-anchor="end">3.5</text>
<text x="102.40" y="346.8" text-anchor="middle">0</text>
<text x="190.90" y="346.8" text-anchor="middle">2</text>
<text x="279.40" y="346.8" text-anchor="middle">4</text>
<text x="367.90" y="346.8" text-anchor="middle">6</text>
<text x="456.40" y="346.8" text-anchor="middle">8</text>
<text x="544.90" y="346.8" text-anchor="middle">10</text>
<text x="246.3" y="47.00" text-anchor="end">Re[M] Cutoff(1)</text>
<text x="246.3" y="68.00" text-anchor="end">Re[M] Cutoff(2)</text>
<text x="109.0" y="88.50">Re[M]</text>
<text x="246.3" y="129.50" text-anchor="end">Im[M] Cutoff(1)</text>
<text x="246.3" y="150.00" text-anchor="end">Im[M] Cutoff(2)</text>
<text x="111.9" y="170.50">Im[M]</text>
</g>
<g font-family="Liberation Serif, serif" font-size="100" fill="#000" stroke="#fff" stroke-width="0.9">
<text transform="matrix(0.2147 0 0 0.2245 197.23 89.03)" font-style="italic">O</text>
<text transform="matrix(0.1843 0 0 0.2309 214.47 89.04)" font-style="normal">(</text>
<text transform="matrix(0.1972 0 0 0.1963 220.53 89.08)" font-style="italic">p</text>
<text transform="matrix(0.1527 0 0 0.1262 230.79 82.15)" font-style="normal">4</text>
<text transform="matrix(0.1786 0 0 0.2309 239.52 89.04)" font-style="normal">)</text>
<text transform="matrix(0.2147 0 0 0.2245 197.23 171.03)" font-style="italic">O</text>
<text transform="matrix(0.1843 0 0 0.2309 214.47 171.04)" font-style="normal">(</text>
<text transform="matrix(0.1972 0 0 0.1963 220.53 171.08)" font-style="italic">p</text>
<text transform="matrix(0.1527 0 0 0.1262 230.79 164.15)" font-style="normal">4</text>
<text transform="matrix(0.1786 0 0 0.2309 239.52 171.04)" font-style="normal">)</text>
<text transform="matrix(0.2348 0 0 0.2458 294.41 378.95)" font-style="italic">s</text>
<text transform="matrix(0.3495 0 0 0.3552 305.60 384.44)" font-style="normal">/</text>
<text transform="matrix(0.2755 0 0 0.2383 317.27 379.00)" font-style="italic">m</text>
<text transform="matrix(0.1775 0 0 0.1570 337.10 369.40)" font-style="normal">2</text>
<text transform="matrix(0.2010 0 0 0.1532 336.50 384.05)" font-style="italic">π</text>
<g transform="rotate(-90)">
<text transform="matrix(0.2697 0 0 0.2626 -232.66 22.20)" font-style="italic">M</text>
<text transform="matrix(0.2588 0 0 0.2740 -205.96 21.68)" font-style="normal">(</text>
<text transform="matrix(0.2609 0 0 0.2458 -197.13 22.05)" font-style="italic">s</text>
<text transform="matrix(0.2067 0 0 0.2824 -185.38 21.69)" font-style="normal">,</text>
<text transform="matrix(0.3208 0 0 0.2830 -177.04 21.92)" font-style="italic">t</text>
<text transform="matrix(0.3398 0 0 0.2440 -160.50 23.16)" font-style="normal">=</text>
<text transform="matrix(0.2609 0 0 0.2458 -134.13 22.05)" font-style="italic">s</text>
<text transform="matrix(0.2563 0 0 0.2729 -123.13 21.70)" font-style="normal">)</text>
</g>
</g>
</svg>
</body></html>
